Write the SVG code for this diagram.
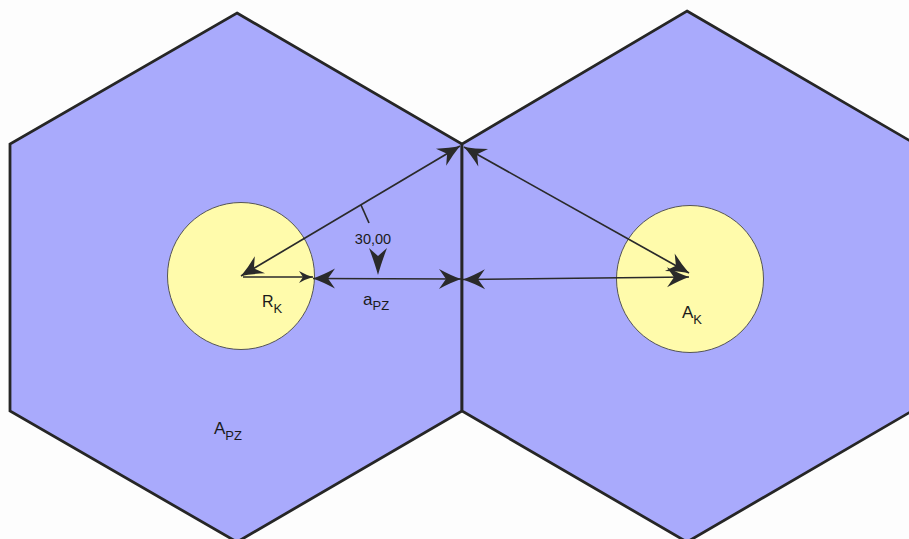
<svg xmlns="http://www.w3.org/2000/svg" width="909" height="539" viewBox="0 0 909 539">
<style>
.hex{fill:#A9AAFC;stroke:#262626;stroke-width:2.8;stroke-linejoin:miter}
.circ{fill:#FFFBAB;stroke:#555;stroke-width:1}
.dim{fill:none;stroke:#2a2a2a;stroke-width:1.7}
.lbl{font-family:"Liberation Sans",Arial,sans-serif;fill:#1a1a1a}
.sub{font-size:13px}
</style>
<defs>
<marker id="big" viewBox="-24 -11 26 22" refX="0" refY="0" markerWidth="26" markerHeight="22" markerUnits="userSpaceOnUse" orient="auto-start-reverse">
<path d="M0,0 Q-10,-3.5 -22,-10 L-15,0 L-22,10 Q-10,3.5 0,0 Z" fill="#2a2a2a"/>
</marker>
<marker id="small" viewBox="-16 -7 18 14" refX="0" refY="0" markerWidth="18" markerHeight="14" markerUnits="userSpaceOnUse" orient="auto-start-reverse">
<path d="M0,0 Q-7,-2 -14,-6 L-10,0 L-14,6 Q-7,2 0,0 Z" fill="#2a2a2a"/>
</marker>
</defs>
<rect width="909" height="539" fill="#FDFDFD"/>
<g id="hex-left"><polygon class="hex" points="237,13 462,144 462,411 237,542 10,411 10,144"/></g>
<g id="hex-right"><polygon class="hex" points="687,11 912,142 912,411 687,542 462,411 462,144"/></g>
<g id="circle-left"><circle class="circ" cx="241" cy="276" r="73.5"/></g>
<g id="circle-right"><circle class="circ" cx="690" cy="279" r="73.5"/></g>
<g id="connectors">
<line class="dim" x1="241" y1="276" x2="460" y2="146" marker-start="url(#big)" marker-end="url(#big)"/>
<line class="dim" x1="464" y1="147" x2="689" y2="273" marker-start="url(#big)" marker-end="url(#big)"/>
<line class="dim" x1="243" y1="277" x2="313" y2="277" stroke-width="1.3" marker-end="url(#small)"/>
<line class="dim" x1="313" y1="278.5" x2="461" y2="279" marker-start="url(#big)" marker-end="url(#big)"/>
<line class="dim" x1="463" y1="279.5" x2="689" y2="277" marker-start="url(#big)" marker-end="url(#big)"/>
<line class="dim" x1="361" y1="205" x2="369" y2="223" stroke-width="1.4"/>
<path d="M378,275 Q375,264 369,248 L378,256 L387,248 Q381,264 378,275 Z" fill="#2a2a2a"/>
</g>
<g id="labels">
<text class="lbl" x="373" y="244" font-size="14.5" text-anchor="middle" fill="#333">30,00</text>
<text class="lbl" x="262" y="307" font-size="16">R<tspan class="sub" dy="6">K</tspan></text>
<text class="lbl" x="363" y="305" font-size="17">a<tspan class="sub" dy="5" font-size="14">PZ</tspan></text>
<text class="lbl" x="682" y="318" font-size="17">A<tspan class="sub" dy="6">K</tspan></text>
<text class="lbl" x="214" y="434" font-size="17">A<tspan class="sub" dy="6">PZ</tspan></text>
</g>
</svg>
